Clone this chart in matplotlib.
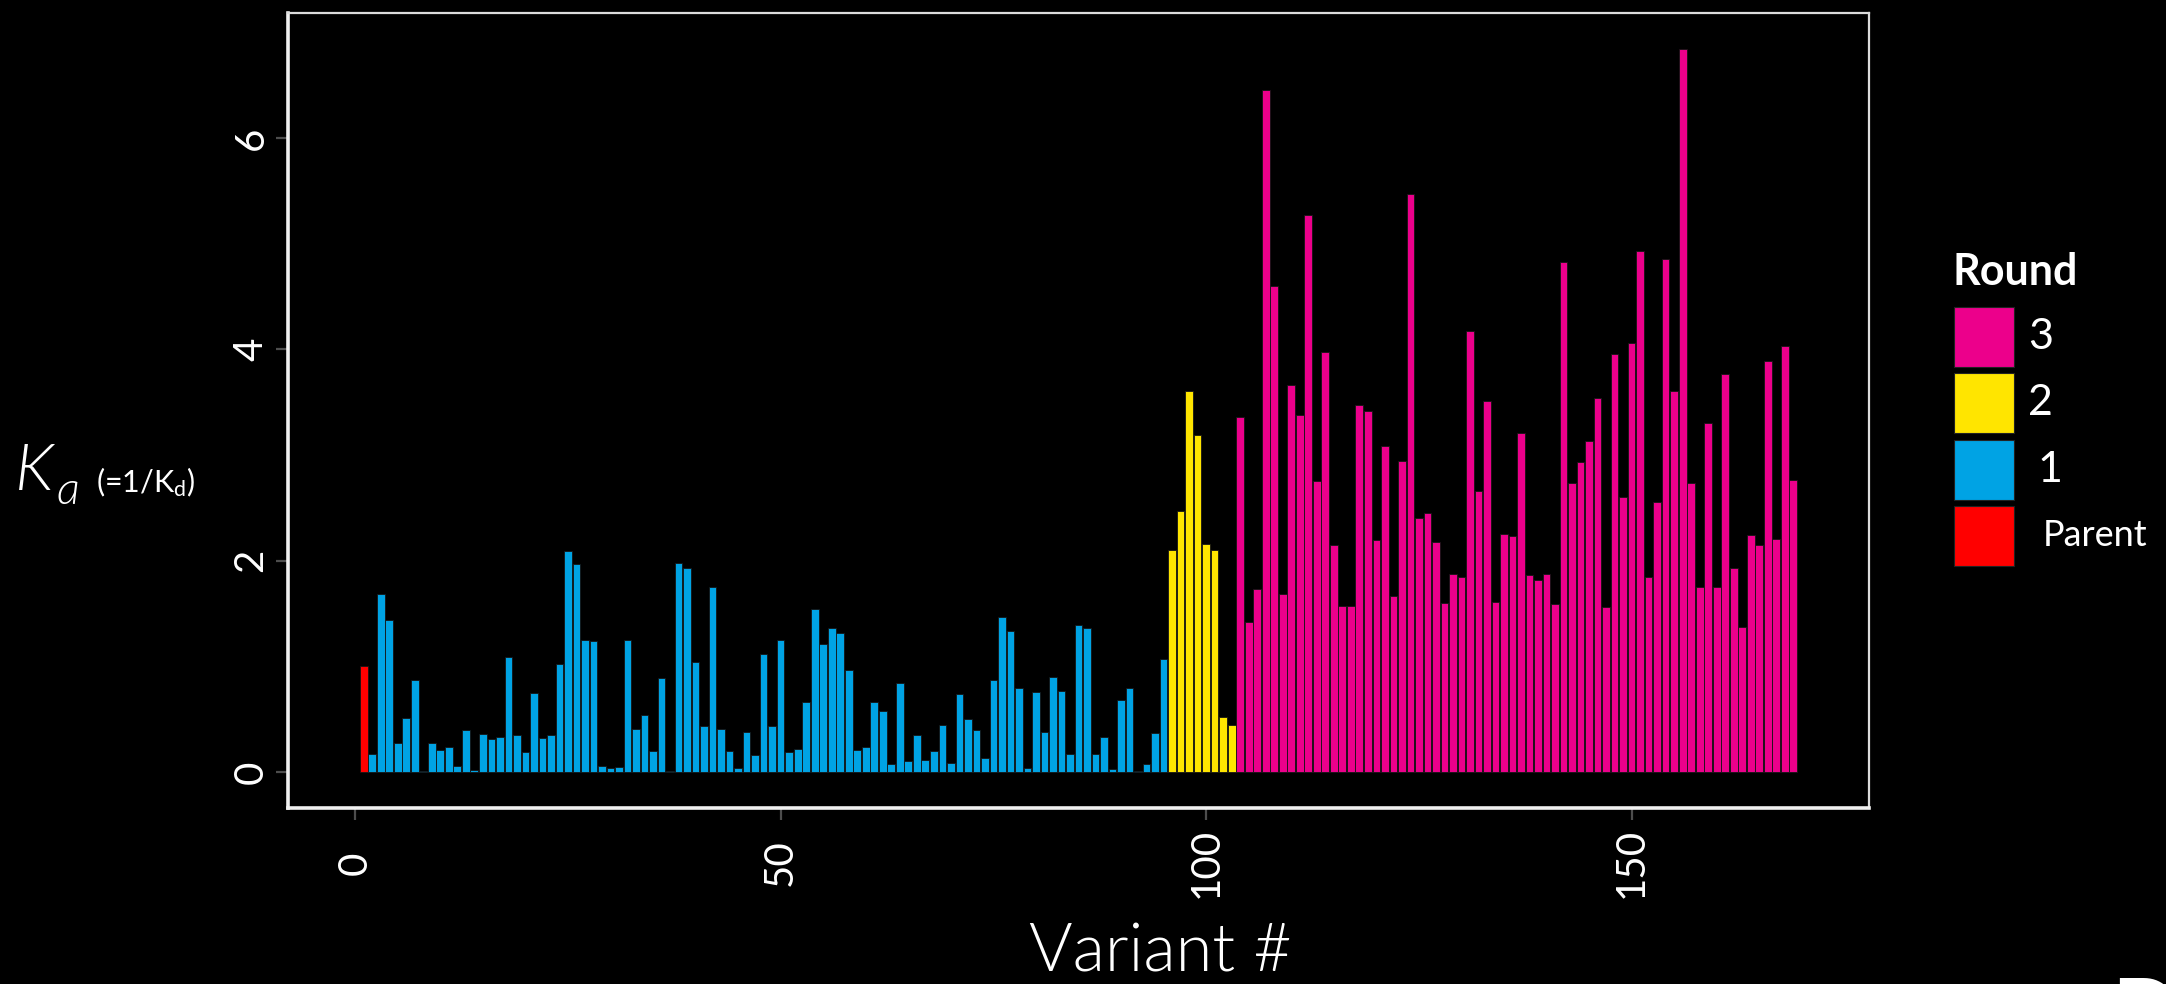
import numpy as np
import matplotlib.pyplot as plt
from matplotlib.patches import Rectangle

W, H = 2166, 984

plt.rcParams['font.family'] = ['Lato', 'DejaVu Sans']
plt.rcParams['mathtext.fontset'] = 'custom'
plt.rcParams['mathtext.rm'] = 'Lato'
plt.rcParams['mathtext.it'] = 'Lato:italic'

# Ka (=1/Kd) per variant, variants numbered from 1 in order
parent_ka = [1.00]
round1_ka = [
    0.17, 1.68, 1.44, 0.27, 0.51, 0.87, 0.01, 0.27, 0.21, 0.24,
    0.06, 0.40, 0.02, 0.36, 0.31, 0.33, 1.09, 0.35, 0.19, 0.75,
    0.32, 0.35, 1.02, 2.09, 1.97, 1.25, 1.24, 0.06, 0.04, 0.05,
    1.25, 0.41, 0.54, 0.20, 0.89, 0.005, 1.98, 1.93, 1.04, 0.43,
    1.75, 0.41, 0.20, 0.04, 0.38, 0.16, 1.12, 0.43, 1.25, 0.19,
    0.22, 0.66, 1.54, 1.21, 1.36, 1.31, 0.96, 0.21, 0.24, 0.66,
    0.58, 0.07, 0.84, 0.10, 0.35, 0.11, 0.20, 0.44, 0.08, 0.74,
    0.50, 0.40, 0.13, 0.87, 1.47, 1.33, 0.79, 0.04, 0.76, 0.38,
    0.90, 0.77, 0.17, 1.39, 1.36, 0.17, 0.33, 0.03, 0.68, 0.79,
    0.01, 0.07, 0.37, 1.07,
]
round2_ka = [2.10, 2.47, 3.60, 3.19, 2.16, 2.10, 0.52, 0.44]
round3_ka = [
    3.36, 1.42, 1.73, 6.45, 4.60, 1.68, 3.66, 3.38, 5.27, 2.75,
    3.97, 2.15, 1.57, 1.57, 3.47, 3.42, 2.19, 3.08, 1.66, 2.94,
    5.47, 2.40, 2.45, 2.18, 1.60, 1.87, 1.84, 4.17, 2.66, 3.51,
    1.61, 2.25, 2.23, 3.21, 1.86, 1.82, 1.87, 1.59, 4.83, 2.73,
    2.93, 3.13, 3.54, 1.56, 3.95, 2.60, 4.06, 4.93, 1.84, 2.55,
    4.85, 3.60, 6.84, 2.73, 1.75, 3.30, 1.75, 3.77, 1.93, 1.37,
    2.24, 2.15, 3.89, 2.20, 4.03, 2.76,
]

round_names = ['Parent', '1', '2', '3']
round_values = [parent_ka, round1_ka, round2_ka, round3_ka]
round_colors = ['#FF0000', '#00A3E4', '#FFE500', '#EC008B']

x_ticks = [0, 50, 100, 150]
y_ticks = [0, 2, 4, 6]


def fx(px):
    return px / W


def fy(py):
    return 1 - py / H


fig = plt.figure(figsize=(W / 100, H / 100), dpi=100, facecolor='black')
ax = fig.add_axes([fx(288), fy(808), (1869 - 288) / W, (808 - 13) / H])
ax.set_facecolor('black')

start = 1
for vals, color in zip(round_values, round_colors):
    x = np.arange(start, start + len(vals))
    ax.bar(x, vals, width=0.9, color=color, edgecolor='#151515', linewidth=0.6)
    start += len(vals)

# ggplot-like 5% expansion on both axes
n_var = start - 1
span = n_var - 0.1
ax.set_xlim(0.55 - 0.05 * span, n_var + 0.45 + 0.05 * span)
y_top = max(max(v) for v in round_values)
ax.set_ylim(-0.05 * y_top, 1.05 * y_top)

ax.set_xticks(x_ticks)
ax.set_yticks(y_ticks)
ax.tick_params(axis='both', colors='#4d4d4d', labelcolor='white', length=8.6,
               width=1.6, labelsize=29)
ax.tick_params(axis='x', pad=31)
ax.tick_params(axis='y', pad=18)
for lab in ax.get_xticklabels():
    lab.set_rotation(90)
    lab.set_va('center')
    lab.set_ha('center')
for lab in ax.get_yticklabels():
    lab.set_rotation(90)
    lab.set_va('center')
    lab.set_ha('center')

for side in ['top', 'right']:
    ax.spines[side].set_color('#dcdcdc')
    ax.spines[side].set_linewidth(1.6)
for side in ['left', 'bottom']:
    ax.spines[side].set_color('#f0f0f0')
    ax.spines[side].set_linewidth(2.6)

# axis titles
fig.text(fx(1160), fy(972), 'Variant #', color='white', fontsize=48,
         fontweight=300, ha='center', va='baseline')
fig.text(fx(15), fy(490), 'K', color='white', fontsize=47, style='italic',
         fontweight=300, ha='left', va='baseline')
fig.text(fx(56), fy(504), 'a', color='white', fontsize=33, style='italic',
         fontweight=300, ha='left', va='baseline')
fig.text(fx(96), fy(492), r'(=1/K$_{\mathrm{d}}$)', color='white', fontsize=22,
         ha='left', va='baseline')

# legend, top entry is the latest round
fig.text(fx(1952), fy(285), 'Round', color='white', fontsize=31,
         fontweight='bold', ha='left', va='baseline')
key_top = 307
label_x = {'3': 2028, '2': 2028, '1': 2037, 'Parent': 2043}
label_size = {'3': 31, '2': 31, '1': 31, 'Parent': 26}
for i, (name, color) in enumerate(zip(round_names[::-1], round_colors[::-1])):
    y0 = key_top + i * 66.3
    fig.add_artist(Rectangle((fx(1954), fy(y0 + 60)), 60 / W, 60 / H,
                             transform=fig.transFigure, facecolor=color,
                             edgecolor='#222222', linewidth=0.8))
    fig.text(fx(label_x[name]), fy(y0 + 30), name, color='white',
             fontsize=label_size[name], ha='left', va='center')

# panel letter, mostly below the figure edge
fig.text(fx(2112), fy(1040), 'D', color='white', fontsize=62,
         fontweight='bold', ha='left', va='baseline')

fig.savefig('out.png', dpi=100, facecolor='black')
